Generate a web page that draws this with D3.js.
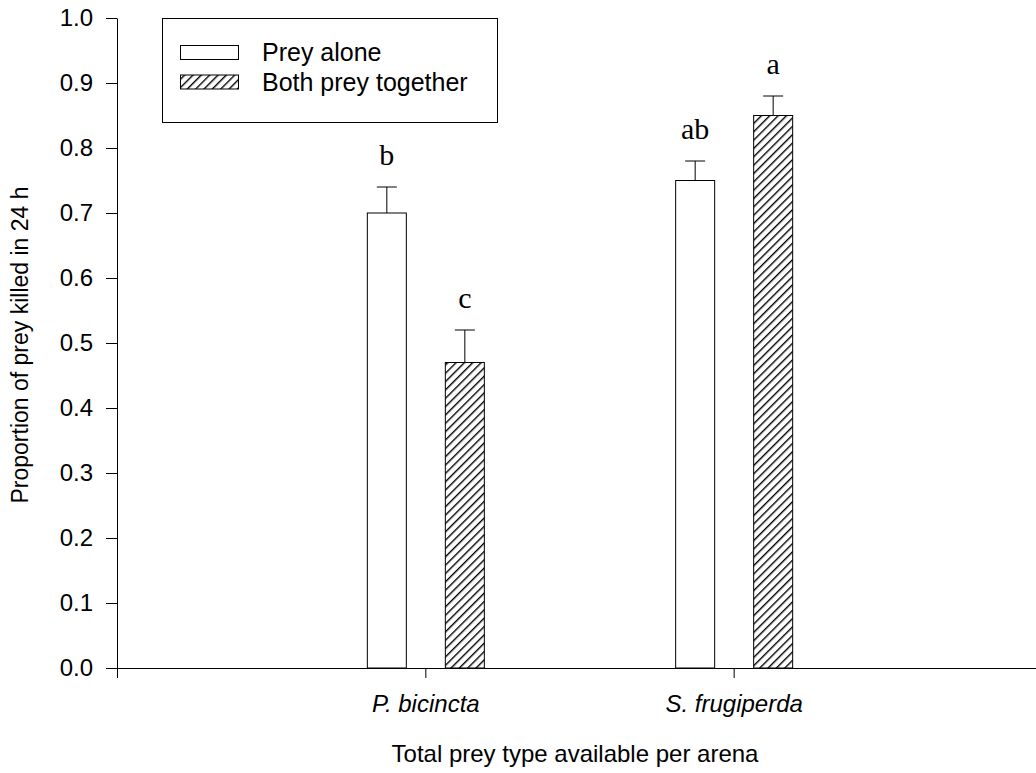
<!DOCTYPE html>
<html>
<head>
<meta charset="utf-8">
<script src="https://cdn.jsdelivr.net/npm/d3@7"></script>
<style>
  body { margin: 0; background: #fff; }
  svg { display: block; }
</style>
</head>
<body>
<div id="chart"></div>
<script>
// data
const categories = ["P. bicincta", "S. frugiperda"];
const series = ["Prey alone", "Both prey together"];
const alone = [0.70, 0.75];
const together = [0.47, 0.85];
const aloneErr = [0.04, 0.03];
const togetherErr = [0.05, 0.03];
const aloneLetters = ["b", "ab"];
const togetherLetters = ["c", "a"];
const yTicks = [0, 0.1, 0.2, 0.3, 0.4, 0.5, 0.6, 0.7, 0.8, 0.9, 1.0];

const width = 1036, height = 773;
const sans = "'Liberation Sans', Arial, sans-serif";

const svg = d3.select("#chart")
    .append("svg")
    .attr("width", width)
    .attr("height", height);

// hatch pattern for the "together" bars
const hs = 5.9;
const pat = svg.append("defs").append("pattern")
    .attr("id", "hatch")
    .attr("patternUnits", "userSpaceOnUse")
    .attr("width", hs)
    .attr("height", hs)
    .attr("patternTransform", "rotate(45)");
pat.append("rect").attr("width", hs).attr("height", hs).attr("fill", "#fff");
pat.append("line")
    .attr("x1", 0.7).attr("y1", 0).attr("x2", 0.7).attr("y2", hs)
    .attr("stroke", "#000").attr("stroke-width", 1.4);

// scales
const xScale = d3.scaleLinear()
    .domain([0, 3])
    .range([117, 1042]);

const yScale = d3.scaleLinear()
    .domain([0, 1])
    .range([668, 18]);

const sScale = d3.scaleBand()
    .domain(series)
    .range([-58, 59])
    .paddingInner(0.5)
    .paddingOuter(0);

const rows = [];
categories.forEach((c, i) => {
    rows.push({ cat: c, i: i + 1, s: series[0], v: alone[i], e: aloneErr[i], l: aloneLetters[i] });
    rows.push({ cat: c, i: i + 1, s: series[1], v: together[i], e: togetherErr[i], l: togetherLetters[i] });
});

const bx = d => xScale(d.i) + sScale(d.s);
const cx = d => bx(d) + sScale.bandwidth() / 2;

// error bars (up only)
svg.selectAll(".err")
    .data(rows)
    .enter()
    .append("line")
    .attr("class", "err")
    .attr("x1", cx).attr("x2", cx)
    .attr("y1", d => yScale(d.v))
    .attr("y2", d => yScale(d.v + d.e))
    .attr("stroke", "#000").attr("stroke-width", 1);

svg.selectAll(".cap")
    .data(rows)
    .enter()
    .append("line")
    .attr("class", "cap")
    .attr("x1", d => cx(d) - 10).attr("x2", d => cx(d) + 10)
    .attr("y1", d => yScale(d.v + d.e))
    .attr("y2", d => yScale(d.v + d.e))
    .attr("stroke", "#000").attr("stroke-width", 1);

// bars
svg.selectAll(".bar")
    .data(rows)
    .enter()
    .append("rect")
    .attr("class", "bar")
    .attr("x", bx)
    .attr("y", d => yScale(d.v))
    .attr("width", sScale.bandwidth())
    .attr("height", d => yScale(0) - yScale(d.v))
    .attr("fill", d => d.s === series[0] ? "#fff" : "url(#hatch)")
    .attr("stroke", "#000")
    .attr("stroke-width", 1);

// significance letters
svg.selectAll(".letter")
    .data(rows)
    .enter()
    .append("text")
    .attr("class", "letter")
    .attr("x", cx)
    .attr("y", d => yScale(d.v + d.e) - 22)
    .attr("text-anchor", "middle")
    .attr("font-family", "'Liberation Serif', 'Times New Roman', serif")
    .attr("font-size", 30)
    .text(d => d.l);

// axes
const yAxis = d3.axisLeft(yScale)
    .tickValues(yTicks)
    .tickFormat(d3.format(".1f"))
    .tickSizeInner(11)
    .tickSizeOuter(0)
    .tickPadding(13);

const gy = svg.append("g")
    .attr("transform", `translate(${xScale(0)},0)`)
    .call(yAxis);
gy.selectAll("text")
    .attr("font-family", sans)
    .attr("font-size", 24)
    .attr("fill", "#000");

const xAxis = d3.axisBottom(xScale)
    .tickValues([0, 1, 2, 3])
    .tickFormat(d => (d >= 1 && d <= 2) ? categories[d - 1] : "")
    .tickSizeInner(10)
    .tickSizeOuter(0)
    .tickPadding(17);

const gx = svg.append("g")
    .attr("transform", `translate(0,${yScale(0)})`)
    .call(xAxis);
gx.selectAll("text")
    .attr("font-family", sans)
    .attr("font-size", 24)
    .attr("font-style", "italic")
    .attr("fill", "#000");

svg.selectAll(".domain, .tick line").attr("stroke", "#000");

// axis titles
svg.append("text")
    .attr("transform", "translate(28,345) rotate(-90)")
    .attr("text-anchor", "middle")
    .attr("font-family", sans)
    .attr("font-size", 23)
    .text("Proportion of prey killed in 24 h");

svg.append("text")
    .attr("x", 575)
    .attr("y", 762)
    .attr("text-anchor", "middle")
    .attr("font-family", sans)
    .attr("font-size", 24)
    .text("Total prey type available per arena");

// legend
const legend = svg.append("g");
legend.append("rect")
    .attr("x", 162.5).attr("y", 18.5)
    .attr("width", 335).attr("height", 104)
    .attr("fill", "#fff").attr("stroke", "#000");

series.forEach((s, i) => {
    legend.append("rect")
        .attr("x", 180.5).attr("y", 45.5 + i * 29.5)
        .attr("width", 58).attr("height", 14)
        .attr("fill", i === 0 ? "#fff" : "url(#hatch)")
        .attr("stroke", "#000");
    legend.append("text")
        .attr("x", 262).attr("y", 61 + i * 29.5)
        .attr("font-family", sans)
        .attr("font-size", 25)
        .text(s);
});
</script>
</body>
</html>
